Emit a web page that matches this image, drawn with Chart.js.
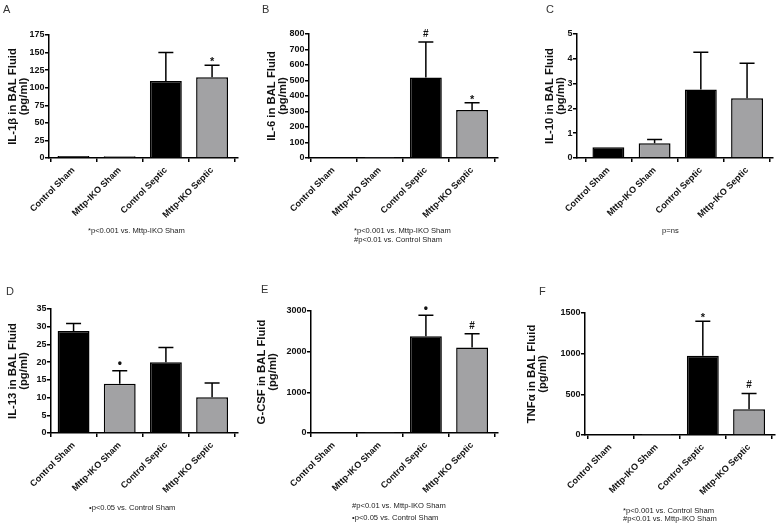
<!DOCTYPE html>
<html><head><meta charset="utf-8">
<script src="https://cdn.jsdelivr.net/npm/chart.js@4.4.1/dist/chart.umd.min.js"></script>
<style>
html,body{margin:0;padding:0;background:#fff}
body{width:779px;height:529px;overflow:hidden;position:relative;font-family:"Liberation Sans",Arial,sans-serif}
canvas{position:absolute}
.lt{position:absolute;font-size:11px;line-height:11px;color:#333}
.fn{position:absolute;font-size:7.6px;line-height:9px;color:#222;white-space:nowrap}
</style></head><body>
<script>
// ---------------- data ----------------
const categories = ['Control Sham', 'Mttp-IKO Sham', 'Control Septic', 'Mttp-IKO Septic'];

const il1bMean = [3, 2.5, 109.5, 115];
const il1bErrTop = [null, null, 150, 132];
const il1bSig = ['', '', '', '*'];

const il6Mean = [2, 1, 519, 309];
const il6ErrTop = [null, null, 748, 357];
const il6Sig = ['', '', '#', '*'];

const il10Mean = [0.43, 0.59, 2.76, 2.41];
const il10ErrTop = [null, 0.75, 4.26, 3.82];
const il10Sig = ['', '', '', ''];

const il13Mean = [28.8, 13.9, 20.0, 10.1];
const il13ErrTop = [30.9, 17.6, 24.1, 14.1];
const il13Sig = ['', '•', '', ''];

const gcsfMean = [20, 10, 2381, 2104];
const gcsfErrTop = [null, null, 2895, 2438];
const gcsfSig = ['', '', '•', '#'];

const tnfMean = [3, 2, 973, 316];
const tnfErrTop = [null, null, 1398, 510];
const tnfSig = ['', '', '*', '#'];

const yMaxes = [175, 800, 5, 35, 3000, 1500];
const ySteps = [25, 100, 1, 5, 1000, 500];

const yTitles = [
  ['IL-1β in BAL Fluid', '(pg/ml)'],
  ['IL-6 in BAL Fluid', '(pg/ml)'],
  ['IL-10 in BAL Fluid', '(pg/ml)'],
  ['IL-13 in BAL Fluid', '(pg/ml)'],
  ['G-CSF in BAL Fluid', '(pg/ml)'],
  ['TNFα in BAL Fluid', '(pg/ml)']
];
const panelLetters = ['A', 'B', 'C', 'D', 'E', 'F'];
const footnotes = [
  ['*p<0.001 vs. Mttp-IKO Sham'],
  ['*p<0.001 vs. Mttp-IKO Sham', '#p<0.01 vs. Control Sham'],
  ['p=ns'],
  ['•p<0.05 vs. Control Sham'],
  ['#p<0.01 vs. Mttp-IKO Sham', '•p<0.05 vs. Control Sham'],
  ['*p<0.001 vs. Control Sham', '#p<0.01 vs. Mttp-IKO Sham']
];

// ---------------- layout (positions/styles) ----------------
const barColors = ['#000000', '#a2a2a4', '#000000', '#a2a2a4'];
const layoutCfg = [
  {left: 48, right: 237, top: 35, bottom: 158, titleX: 12, canvasTop: 0, xMin: -0.54, letter: [3, 3.6], fn: [[88, 230]]},
  {left: 308, right: 497, top: 34, bottom: 158, titleX: 271, canvasTop: 0, xMin: -0.54, letter: [262, 3.6], fn: [[354, 230.3], [354, 239.3]]},
  {left: 576, right: 772, top: 34, bottom: 158, titleX: 549, canvasTop: 0, xMin: -0.69, letter: [546, 3.6], fn: [[662, 230]]},
  {left: 50, right: 237, top: 309, bottom: 433, titleX: 12, canvasTop: 265, xMin: -0.50, letter: [6, 286], fn: [[89, 507]]},
  {left: 310, right: 497, top: 311, bottom: 433, titleX: 261, canvasTop: 265, xMin: -0.50, letter: [261, 283.5], fn: [[352, 505.7], [352, 517.3]]},
  {left: 584, right: 774, top: 313, bottom: 435, titleX: 531, canvasTop: 265, xMin: -0.56, letter: [539, 286], fn: [[623, 510], [623, 518.5]]}
];
const means = [il1bMean, il6Mean, il10Mean, il13Mean, gcsfMean, tnfMean];
const errTops = [il1bErrTop, il6ErrTop, il10ErrTop, il13ErrTop, gcsfErrTop, tnfErrTop];
const sigs = [il1bSig, il6Sig, il10Sig, il13Sig, gcsfSig, tnfSig];

Chart.defaults.font.family = '"Liberation Sans", Arial, sans-serif';

function errPlugin(errTop, sig) {
  return {
    id: 'errbars',
    afterDatasetsDraw(chart) {
      const ctx = chart.ctx;
      const meta = chart.getDatasetMeta(0);
      const ys = chart.scales.y;
      ctx.save();
      ctx.strokeStyle = '#000';
      ctx.lineWidth = 1.5;
      ctx.fillStyle = '#111';
      ctx.textAlign = 'center';
      ctx.textBaseline = 'middle';
      meta.data.forEach((bar, i) => {
        const e = errTop[i];
        let top = bar.y;
        if (e !== null && e !== undefined) {
          top = ys.getPixelForValue(e);
          ctx.beginPath();
          ctx.moveTo(bar.x, bar.y);
          ctx.lineTo(bar.x, top);
          ctx.moveTo(bar.x - 7.5, top);
          ctx.lineTo(bar.x + 7.5, top);
          ctx.stroke();
        }
        const s = sig[i];
        if (s) {
          let off = 8, size = 10;
          if (s === '*') { off = 3; size = 11; }
          else if (s === '•') { off = 7; size = 12; }
          ctx.font = 'bold ' + size + 'px "Liberation Sans", Arial, sans-serif';
          ctx.fillText(s, bar.x, top - off);
        }
      });
      ctx.restore();
    }
  };
}

function makePanel(idx) {
  const cfg = layoutCfg[idx];
  const fs = 11.3;
  const lhf = 0.97;
  const lh = fs * lhf;
  const cLeft = cfg.titleX - lh / 2;
  const cTop = cfg.canvasTop;
  const xAxisH = 70;
  const W = Math.round(cfg.right - cLeft + 5);
  const H = Math.round(cfg.bottom - cTop + xAxisH);
  const cv = document.createElement('canvas');
  cv.width = W; cv.height = H;
  cv.style.left = cLeft + 'px'; cv.style.top = cTop + 'px';
  cv.style.width = W + 'px'; cv.style.height = H + 'px';
  document.body.appendChild(cv);
  const vals = means[idx];
  new Chart(cv, {
    type: 'bar',
    data: {
      datasets: [{
        data: vals.map((v, i) => ({x: i, y: v})),
        backgroundColor: barColors,
        borderColor: '#000',
        borderWidth: 1.5,
        barPercentage: 0.69,
        categoryPercentage: 1
      }]
    },
    options: {
      responsive: false,
      animation: false,
      devicePixelRatio: 1,
      layout: {padding: {left: 0, top: cfg.top - cTop, right: W - (cfg.right - cLeft), bottom: 0}},
      plugins: {legend: {display: false}, tooltip: {enabled: false}},
      scales: {
        x: {
          type: 'linear', min: cfg.xMin, max: 3.55, offset: false,
          afterBuildTicks: s => { s.ticks = categories.map((c, i) => ({value: i})); },
          afterFit: s => { s.height = xAxisH; s.paddingLeft = 0; s.paddingRight = 0; },
          ticks: {
            callback: v => categories[v],
            maxRotation: 45, minRotation: 45, autoSkip: false,
            font: {weight: 'bold', size: 9}, color: '#111', padding: 3
          },
          grid: {drawOnChartArea: false, drawTicks: true, tickLength: 4, color: '#000', lineWidth: 1.5},
          border: {color: '#000', width: 1.5}
        },
        y: {
          min: 0, max: yMaxes[idx],
          ticks: {stepSize: ySteps[idx], callback: v => String(v), font: {weight: 'bold', size: 9}, color: '#111', padding: 0.5},
          afterFit: s => { s.width = cfg.left - cLeft; s.paddingTop = 0; s.paddingBottom = 0; },
          grid: {drawOnChartArea: false, drawTicks: true, tickLength: 3.5, color: '#000', lineWidth: 1.5},
          border: {color: '#000', width: 1.5},
          title: {display: true, text: yTitles[idx], font: {weight: 'bold', size: fs, lineHeight: lhf}, color: '#111', padding: 0}
        }
      }
    },
    plugins: [errPlugin(errTops[idx], sigs[idx])]
  });

  const lt = document.createElement('div');
  lt.className = 'lt';
  lt.textContent = panelLetters[idx];
  lt.style.left = cfg.letter[0] + 'px';
  lt.style.top = cfg.letter[1] + 'px';
  document.body.appendChild(lt);

  footnotes[idx].forEach((t, k) => {
    const d = document.createElement('div');
    d.className = 'fn';
    d.textContent = t;
    d.style.left = cfg.fn[k][0] + 'px';
    d.style.top = (cfg.fn[k][1] - 4.5) + 'px';
    document.body.appendChild(d);
  });
}

for (let i = 0; i < 6; i++) makePanel(i);
</script>
</body></html>
